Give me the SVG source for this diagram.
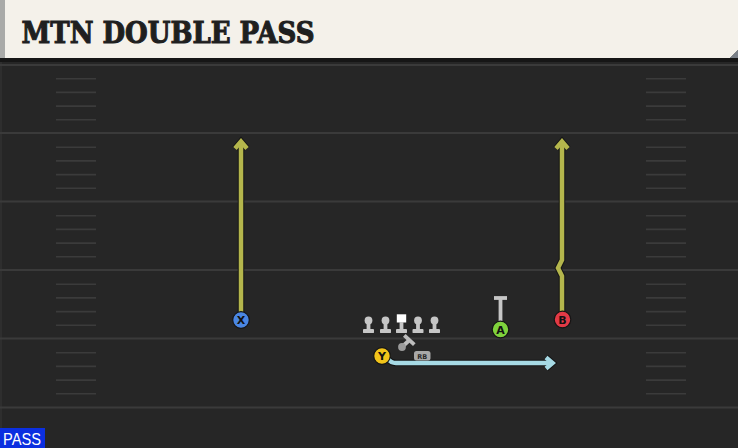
<svg xmlns="http://www.w3.org/2000/svg" width="738" height="448" viewBox="0 0 738 448">
  <style>
    .yard { stroke: #3a3a3a; stroke-width: 2; }
    .hash { stroke: #3b3b3b; stroke-width: 1.6; }
    .rt-under { fill: none; stroke: #151515; stroke-width: 6.5; stroke-linejoin: miter; stroke-linecap: butt; }
    .rt-y { fill: none; stroke: #b4b64c; stroke-width: 4.5; stroke-linejoin: miter; stroke-linecap: butt; }
    .rt-b { fill: none; stroke: #a6dae5; stroke-width: 4.5; stroke-linejoin: miter; stroke-linecap: butt; }
    .blk { fill: none; stroke: #c6c6c6; stroke-width: 3.8; stroke-linecap: butt; }
    .ol { fill: #c6c6c6; }
    .player { stroke: #151515; stroke-width: 1.2; }
    .lbl { font-family: "DejaVu Sans", "Liberation Sans", sans-serif; font-weight: bold; font-size: 11px; fill: #111; text-anchor: middle; }
  </style>
  <defs>
    <g id="hashset">
      <line class="hash" x1="56" x2="96" y1="13.7" y2="13.7"/>
      <line class="hash" x1="56" x2="96" y1="27.4" y2="27.4"/>
      <line class="hash" x1="56" x2="96" y1="41.1" y2="41.1"/>
      <line class="hash" x1="56" x2="96" y1="54.8" y2="54.8"/>
      <line class="hash" x1="646" x2="686" y1="13.7" y2="13.7"/>
      <line class="hash" x1="646" x2="686" y1="27.4" y2="27.4"/>
      <line class="hash" x1="646" x2="686" y1="41.1" y2="41.1"/>
      <line class="hash" x1="646" x2="686" y1="54.8" y2="54.8"/>
    </g>
    <g id="pawn">
      <circle class="ol" cx="0" cy="0" r="3.9"/>
      <rect class="ol" x="-1.9" y="0" width="3.8" height="10"/>
      <rect class="ol" x="-5.5" y="8.6" width="11" height="4" rx="0.9"/>
    </g>
  </defs>

  <!-- field -->
  <rect x="0" y="0" width="738" height="448" fill="#262626"/>
  <rect x="0" y="58" width="2" height="390" fill="#2e2e2e"/>
  <g id="yardlines">
    <line class="yard" x1="0" x2="738" y1="65" y2="65"/>
    <line class="yard" x1="0" x2="738" y1="133" y2="133"/>
    <line class="yard" x1="0" x2="738" y1="201.5" y2="201.5"/>
    <line class="yard" x1="0" x2="738" y1="270" y2="270"/>
    <line class="yard" x1="0" x2="738" y1="338.5" y2="338.5"/>
    <line class="yard" x1="0" x2="738" y1="407.5" y2="407.5"/>
  </g>
  <g id="hashmarks">
    <use href="#hashset" y="65"/>
    <use href="#hashset" y="133.5"/>
    <use href="#hashset" y="202"/>
    <use href="#hashset" y="270.5"/>
    <use href="#hashset" y="339"/>
  </g>

  <!-- header -->
  <g id="header">
    <rect x="0" y="58" width="738" height="4" fill="#161616"/>
    <path d="M0 0 H738 V50 L730 58 H0 Z" fill="#f4f1ea"/>
    <path d="M738 50 V58 H730 Z" fill="#7a8088"/>
    <rect x="0" y="0" width="5" height="58" fill="#a9aaa8"/>
    <text x="21.5" y="42.5" font-family="'DejaVu Serif', 'Liberation Serif', serif" font-weight="900" font-size="29" fill="#1f1f1f" stroke="#1f1f1f" stroke-width="1.1" textLength="293" lengthAdjust="spacingAndGlyphs">MTN DOUBLE PASS</text>
  </g>

  <!-- connectors -->
  <g id="connectors">
    <g id="route-x">
      <path class="rt-under" d="M241 312 V143"/>
      <polyline class="rt-under" points="235,148.5 241,141.5 247,148.5"/>
      <path class="rt-y" d="M241 312 V143"/>
      <polyline class="rt-y" points="235,148.5 241,141.5 247,148.5"/>
    </g>
    <g id="route-b">
      <path class="rt-under" d="M562 312 V276 L558 268 L562 260 V143"/>
      <polyline class="rt-under" points="556,148.5 562,141.5 568,148.5"/>
      <path class="rt-y" d="M562 312 V276 L558 268 L562 260 V143"/>
      <polyline class="rt-y" points="556,148.5 562,141.5 568,148.5"/>
    </g>
    <g id="route-y">
      <path class="rt-under" d="M388 359 Q391 363 396 363 H551"/>
      <polyline class="rt-under" points="546,357.5 552.5,363 546,368.5"/>
      <path class="rt-b" d="M388 359 Q391 363 396 363 H551"/>
      <polyline class="rt-b" points="546,357.5 552.5,363 546,368.5"/>
    </g>
    <g id="block-a">
      <line class="blk" x1="500.5" y1="322" x2="500.5" y2="298"/>
      <line class="blk" x1="494" y1="298" x2="507" y2="298"/>
    </g>
  </g>

  <!-- offensive line -->
  <g id="lt"><use href="#pawn" x="368.5" y="320.5"/></g>
  <g id="lg"><use href="#pawn" x="385.5" y="320.5"/></g>
  <g id="c">
    <rect x="396.8" y="314.3" width="9.4" height="8.2" fill="#ffffff"/>
    <rect class="ol" x="399.6" y="322" width="3.8" height="8"/>
    <rect class="ol" x="396" y="329.1" width="11" height="4" rx="0.9"/>
  </g>
  <g id="rg"><use href="#pawn" x="418" y="320.5"/></g>
  <g id="rt"><use href="#pawn" x="434.5" y="320.5"/></g>

  <!-- RB -->
  <g id="rb">
    <line x1="402" y1="347" x2="409.5" y2="340" stroke="#bdbdbd" stroke-width="3.8"/>
    <line x1="404.3" y1="335.3" x2="414.3" y2="344.7" stroke="#bdbdbd" stroke-width="3.8"/>
    <circle cx="402" cy="347" r="3.9" fill="#9a9a9a"/>
    <rect x="414" y="351" width="16.5" height="9.5" rx="2.5" fill="#a8a8a8"/>
    <text x="422.2" y="358.6" font-family="'DejaVu Sans', 'Liberation Sans', sans-serif" font-weight="bold" font-size="6.5" fill="#2a2a2a" text-anchor="middle">RB</text>
  </g>

  <!-- skill players -->
  <g id="x">
    <circle class="player" cx="241" cy="320" r="8.3" fill="#4a86e2"/>
    <text class="lbl" x="241" y="324">X</text>
  </g>
  <g id="b">
    <circle class="player" cx="562.5" cy="319.5" r="8.3" fill="#e23a46"/>
    <text class="lbl" x="562.5" y="323.5">B</text>
  </g>
  <g id="a">
    <circle class="player" cx="500.5" cy="329.5" r="8.3" fill="#7fd23c"/>
    <text class="lbl" x="500.5" y="333.5">A</text>
  </g>
  <g id="y">
    <circle class="player" cx="382" cy="356" r="8.3" fill="#f2c41a"/>
    <text class="lbl" x="382" y="360">Y</text>
  </g>

  <!-- play type badge -->
  <g id="pass-badge">
    <rect x="0" y="428" width="45" height="20" fill="#0b2fe0"/>
    <text x="3" y="445" font-family="'Liberation Sans', Arial, sans-serif" font-size="16" fill="#ffffff" textLength="38" lengthAdjust="spacingAndGlyphs">PASS</text>
  </g>
</svg>
